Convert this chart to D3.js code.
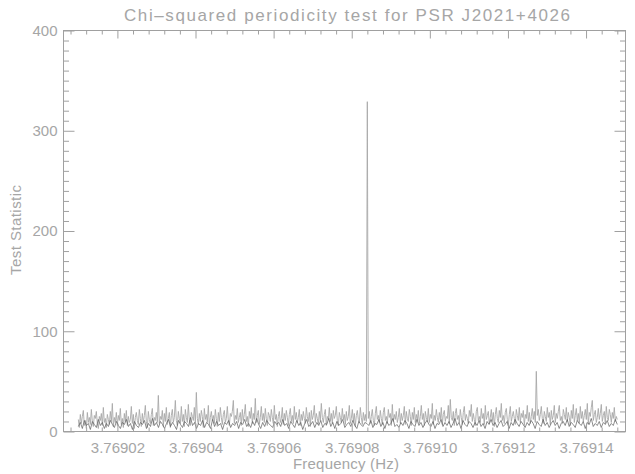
<!DOCTYPE html>
<html>
<head>
<meta charset="utf-8">
<script src="https://cdn.jsdelivr.net/npm/d3@7"></script>
<style>
    body { margin: 0; background: #fff; }
    svg text { font-family: "Liberation Sans", "DejaVu Sans", sans-serif; fill: #a6a6a6; }
</style>
</head>
<body>
<svg id="draw-area" width="635" height="474"></svg>
<script>
// frequency grid of the search (Hz)
const freqStart = 3.769010;
const freqEnd = 3.769148;

// test statistic, light trace (fine grid)
const lightValues = [
    12, 4, 17, 8, 15, 21, 6, 11, 3, 19, 9, 14, 7, 22, 10, 5, 16, 13, 20, 8,
    3, 15, 11, 18, 6, 24, 9, 13, 4, 17, 12, 7, 20, 10, 28, 5, 14, 9, 19, 6,
    16, 11, 23, 7, 13, 4, 18, 10, 21, 6, 15, 9, 12, 25, 8, 17, 3, 14, 19, 11,
    7, 22, 13, 5, 18, 9, 16, 26, 10, 4, 20, 12, 8, 17, 23, 6, 14, 11, 19, 9,
    36, 8, 15, 12, 21, 5, 18, 10, 24, 7, 13, 19, 4, 16, 22, 9, 14, 31, 11, 6,
    20, 13, 8, 25, 10, 17, 5, 22, 14, 9, 27, 12, 6, 19, 15, 11, 24, 8, 39, 13,
    7, 18, 10, 21, 15, 4, 23, 12, 17, 9, 26, 6, 14, 20, 11, 16, 8, 22, 13, 5,
    19, 10, 24, 14, 7, 17, 21, 9, 13, 25, 11, 6, 18, 15, 20, 31, 8, 16, 12, 23,
    9, 14, 19, 6, 22, 11, 17, 27, 10, 15, 5, 20, 13, 24, 8, 18, 12, 33, 9, 16,
    21, 7, 14, 25, 11, 18, 9, 23, 13, 6, 19, 16, 10, 22, 14, 8, 26, 12, 17, 5,
    15, 20, 9, 13, 24, 7, 18, 11, 21, 14, 6, 17, 23, 10, 16, 8, 25, 12, 19, 9,
    14, 22, 6, 17, 11, 20, 13, 8, 24, 15, 10, 19, 5, 21, 12, 16, 26, 9, 18, 13,
    7, 20, 11, 28, 14, 9, 17, 22, 6, 15, 12, 24, 10, 18, 8, 21, 13, 16, 25, 11,
    6, 19, 14, 9, 23, 12, 17, 7, 20, 11, 15, 26, 8, 13, 22, 10, 18, 5, 16, 21,
    12, 9, 24, 14, 7, 19, 11, 17, 10, 329, 13, 20, 8, 15, 22, 11, 6, 18, 25, 12,
    16, 9, 21, 13, 7, 19, 24, 11, 15, 8, 22, 14, 18, 6, 27, 10, 17, 12, 20, 9,
    14, 23, 8, 18, 11, 16, 25, 7, 20, 13, 10, 22, 15, 6, 19, 12, 24, 9, 17, 11,
    21, 8, 15, 26, 12, 18, 6, 20, 14, 10, 23, 9, 17, 13, 28, 7, 16, 11, 22, 14,
    9, 19, 12, 24, 7, 17, 21, 10, 15, 13, 26, 8, 32, 14, 11, 20, 6, 18, 23, 12,
    16, 9, 22, 14, 7, 19, 25, 11, 17, 13, 8, 21, 15, 27, 10, 18, 12, 6, 20, 24,
    11, 15, 9, 23, 13, 18, 7, 26, 12, 16, 20, 8, 14, 22, 10, 19, 5, 17, 24, 13,
    9, 21, 14, 28, 11, 16, 8, 19, 23, 12, 6, 17, 25, 10, 15, 20, 13, 7, 22, 16,
    11, 24, 9, 18, 14, 21, 6, 17, 13, 26, 10, 19, 8, 15, 23, 12, 20, 9, 60, 16,
    22, 11, 17, 25, 13, 8, 20, 15, 10, 24, 14, 19, 7, 21, 12, 16, 26, 9, 18, 13,
    20, 26, 11, 15, 8, 22, 17, 12, 24, 10, 19, 14, 6, 21, 13, 27, 9, 16, 23, 11,
    18, 8, 25, 13, 20, 10, 16, 22, 12, 28, 7, 19, 15, 24, 31, 11, 17, 21, 9, 14,
    23, 12, 18, 27, 10, 16, 20, 8, 25, 14, 11, 22, 17, 9, 19, 13, 24, 10, 15, 12
];

// test statistic, dark trace (coarse grid)
const darkValues = [
    5, 9, 3, 11, 6, 8, 2, 10, 7, 4, 12, 6, 9, 3, 8, 5, 11, 7, 4, 10,
    6, 3, 9, 7, 12, 5, 8, 2, 10, 6, 4, 9, 7, 11, 3, 8, 5, 13, 6, 9,
    4, 10, 7, 3, 8, 12, 5, 9, 6, 2, 11, 7, 4, 10, 8, 5, 14, 6, 9, 3,
    8, 6, 11, 4, 9, 7, 3, 12, 5, 10, 6, 8, 2, 9, 7, 11, 4, 8, 6, 10,
    3, 9, 7, 12, 5, 8, 4, 10, 6, 13, 7, 3, 9, 5, 11, 8, 6, 4, 10, 7,
    9, 5, 12, 6, 8, 3, 10, 7, 4, 11, 6, 9, 2, 8, 12, 5, 7, 10, 4, 9,
    6, 11, 4, 8, 7, 13, 5, 9, 3, 10, 6, 8, 12, 4, 7, 9, 5, 11, 6, 3,
    10, 7, 5, 9, 8, 6, 11, 4, 8, 7, 12, 5, 9, 3, 10, 6, 8, 13, 5, 7,
    4, 9, 6, 11, 8, 3, 10, 7, 5, 12, 6, 9, 4, 8, 11, 7, 5, 10, 3, 8,
    7, 12, 5, 9, 6, 10, 4, 8, 13, 6, 9, 3, 11, 7, 5, 10, 8, 4, 9, 6,
    11, 5, 8, 3, 10, 7, 12, 6, 9, 4, 8, 11, 5, 7, 10, 3, 9, 6, 12, 8,
    5, 10, 7, 4, 9, 6, 11, 8, 3, 10, 7, 5, 12, 6, 9, 4, 8, 11, 6, 9,
    3, 8, 10, 6, 12, 5, 9, 7, 4, 11, 8, 6, 10, 3, 9, 7, 13, 5, 8, 6,
    10, 4, 9, 7, 11, 5, 8, 6, 12, 7
];

const xMajorTicks = [3.76902, 3.76904, 3.76906, 3.76908, 3.76910, 3.76912, 3.76914];
const yMajorTicks = [0, 100, 200, 300, 400];

const titleText = "Chi\u2013squared periodicity test for PSR J2021+4026";
const xTitleText = "Frequency (Hz)";
const yTitleText = "Test Statistic";

const axis_color = "#a0a0a0";
const plot_left = 63.5, plot_right = 625.5, plot_top = 30.5, plot_bottom = 431.5;

function toPoints(values) {
    let step = (freqEnd - freqStart) / (values.length - 1);
    return values.map((v, i) => ({ f: freqStart + i * step, v: v }));
}

function drawTicks(svg, axis, pos) {
    let g = svg.append("g")
        .attr("transform", pos)
        .call(axis);
    g.select(".domain").remove();
    g.selectAll("line").style("stroke", axis_color);
    return g;
}

function draw() {
    let svg = d3.select("#draw-area");

    let xScale = d3.scaleLinear()
        .domain([3.7690062, 3.7691501])
        .range([plot_left, plot_right]);

    let yScale = d3.scaleLinear()
        .domain([0, 400])
        .range([plot_bottom, plot_top]);

    let xMinor = d3.range(3.769008, 3.769150, 0.000004)
        .filter(d => xMajorTicks.every(t => Math.abs(t - d) > 1e-9));
    let yMinor = d3.range(10, 400, 10).filter(d => d % 100 != 0);

    let line = d3.line()
        .x(p => xScale(p.f))
        .y(p => yScale(p.v));

    svg.append("path")
        .datum(toPoints(lightValues))
        .attr("d", line)
        .style("fill", "none")
        .style("stroke", "#a8a8a8")
        .style("stroke-width", 0.9);

    svg.append("path")
        .datum(toPoints(darkValues))
        .attr("d", line)
        .style("fill", "none")
        .style("stroke", "#5a5a5a")
        .style("stroke-width", 0.7);

    // ticks on all four sides, pointing inward
    let bottomAxis = drawTicks(svg, d3.axisBottom(xScale).tickValues(xMajorTicks)
        .tickSize(-8).tickPadding(11).tickFormat(d3.format(".5f")), `translate(0,${plot_bottom})`);
    drawTicks(svg, d3.axisBottom(xScale).tickValues(xMinor).tickSize(-4).tickFormat(""), `translate(0,${plot_bottom})`);
    drawTicks(svg, d3.axisTop(xScale).tickValues(xMajorTicks).tickSize(-8).tickFormat(""), `translate(0,${plot_top})`);
    drawTicks(svg, d3.axisTop(xScale).tickValues(xMinor).tickSize(-4).tickFormat(""), `translate(0,${plot_top})`);

    let leftAxis = drawTicks(svg, d3.axisLeft(yScale).tickValues(yMajorTicks)
        .tickSize(-11).tickPadding(6).tickFormat(d3.format("d")), `translate(${plot_left},0)`);
    drawTicks(svg, d3.axisLeft(yScale).tickValues(yMinor).tickSize(-5.5).tickFormat(""), `translate(${plot_left},0)`);
    drawTicks(svg, d3.axisRight(yScale).tickValues(yMajorTicks).tickSize(-11).tickFormat(""), `translate(${plot_right},0)`);
    drawTicks(svg, d3.axisRight(yScale).tickValues(yMinor).tickSize(-5.5).tickFormat(""), `translate(${plot_right},0)`);

    [bottomAxis, leftAxis].forEach(g => {
        g.selectAll("text")
            .attr("fill", null)
            .style("font-size", "15px");
        g.attr("font-family", null).attr("font-size", null);
    });

    svg.append("rect")
        .attr("x", plot_left)
        .attr("y", plot_top)
        .attr("width", plot_right - plot_left)
        .attr("height", plot_bottom - plot_top)
        .style("fill", "none")
        .style("stroke", axis_color)
        .style("stroke-width", 1);

    svg.append("text")
        .attr("x", 347)
        .attr("y", 21)
        .attr("text-anchor", "middle")
        .attr("textLength", 446)
        .attr("lengthAdjust", "spacing")
        .style("font-size", "17px")
        .text(titleText);

    svg.append("text")
        .attr("x", 346)
        .attr("y", 469)
        .attr("text-anchor", "middle")
        .attr("textLength", 106)
        .attr("lengthAdjust", "spacing")
        .style("font-size", "15px")
        .text(xTitleText);

    svg.append("text")
        .attr("transform", "translate(21,230) rotate(-90)")
        .attr("text-anchor", "middle")
        .attr("textLength", 90)
        .attr("lengthAdjust", "spacing")
        .style("font-size", "15px")
        .text(yTitleText);
}

draw();
</script>
</body>
</html>
